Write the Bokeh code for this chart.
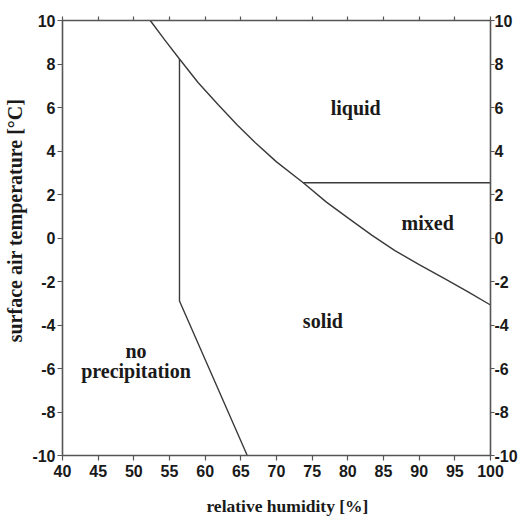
from bokeh.plotting import figure
from bokeh.models import LinearAxis, FixedTicker, Range1d, PrintfTickFormatter
from bokeh.core.properties import value
from bokeh.embed import file_html
from bokeh.resources import INLINE

# rain/snow boundary curve (liquid vs solid/mixed)
curve_rh = [52.3, 54.3, 56.4, 59.0, 61.8, 64.5, 67.0, 70.0, 73.75,
            77.0, 80.2, 83.4, 86.6, 90.0, 93.5, 96.8, 100.0]
curve_t = [10.0, 9.12, 8.23, 7.15, 6.14, 5.2, 4.39, 3.5, 2.54,
           1.65, 0.88, 0.12, -0.58, -1.22, -1.86, -2.47, -3.08]

# no-precipitation boundary
np_rh = [56.4, 56.4, 65.9]
np_t = [8.23, -2.9, -10.0]

# liquid / mixed boundary
mix_rh = [73.75, 100.0]
mix_t = [2.54, 2.54]

region_x = [81.1, 91.2, 76.5, 50.3]
region_y = [5.96, 0.70, -3.81, -5.65]
region_names = ["liquid", "mixed", "solid", "no\nprecipitation"]

x_ticks = [40, 45, 50, 55, 60, 65, 70, 75, 80, 85, 90, 95, 100]
y_ticks = [-10, -8, -6, -4, -2, 0, 2, 4, 6, 8, 10]

NB = "\u00a0"
x_title = NB * 5 + "relative humidity [%]"
y_title = NB * 7 + "surface air temperature [°C]"

LINE = "#3a3a3a"
AX = "#555555"
TICK_FONT = "'Liberation Sans Narrow', 'Arial Narrow', 'Liberation Sans', sans-serif"
SERIF = "'Liberation Serif', 'Times New Roman', serif"

p = figure(width=520, height=519, output_backend="svg", toolbar_location=None,
           x_range=Range1d(40, 100), y_range=Range1d(-10, 10),
           x_axis_location=None, y_axis_location=None,
           min_border_left=62, min_border_right=23, min_border_top=20, min_border_bottom=64)
p.grid.visible = False
p.outline_line_color = None
p.background_fill_color = "white"


def style(ax, labels=True, tick_out=5, standoff=2):
    ax.formatter = PrintfTickFormatter(format="%d")
    ax.axis_line_color = AX
    ax.axis_line_width = 1.6
    ax.major_tick_line_color = AX
    ax.major_tick_line_width = 1.2
    ax.major_tick_out = tick_out
    ax.major_tick_in = 0
    ax.minor_tick_line_color = None
    ax.major_label_text_font = TICK_FONT
    ax.major_label_text_font_style = "bold"
    ax.major_label_text_font_size = "16px"
    ax.major_label_text_color = "#1a1a1a"
    ax.major_label_standoff = standoff
    if not labels:
        ax.major_label_text_font_size = "0px"
        ax.major_label_text_color = None


def title_style(ax, size, standoff):
    ax.axis_label_text_font = SERIF
    ax.axis_label_text_font_style = "bold"
    ax.axis_label_text_font_size = size
    ax.axis_label_text_color = "#1a1a1a"
    ax.axis_label_standoff = standoff


bottom = LinearAxis(ticker=FixedTicker(ticks=x_ticks), axis_label=x_title)
style(bottom, standoff=4)
title_style(bottom, "17.5px", 16)
p.add_layout(bottom, "below")

top = LinearAxis(ticker=FixedTicker(ticks=x_ticks))
style(top, labels=False, tick_out=4)
p.add_layout(top, "above")

left = LinearAxis(ticker=FixedTicker(ticks=y_ticks), axis_label=y_title)
style(left)
title_style(left, "20px", 3)
p.add_layout(left, "left")

right = LinearAxis(ticker=FixedTicker(ticks=y_ticks))
style(right, tick_out=4, standoff=0)
p.add_layout(right, "right")

p.line(curve_rh, curve_t, line_color=LINE, line_width=1.4)
p.line(np_rh, np_t, line_color=LINE, line_width=1.4)
p.line(mix_rh, mix_t, line_color=LINE, line_width=1.4)

p.text(x=region_x, y=region_y, text=region_names,
       text_font=value("Liberation Serif"), text_font_style="bold",
       text_font_size="20px", text_color="#1a1a1a",
       text_align="center", text_baseline="middle", text_line_height=0.9)

open("out.html", "w").write(file_html(p, INLINE))
